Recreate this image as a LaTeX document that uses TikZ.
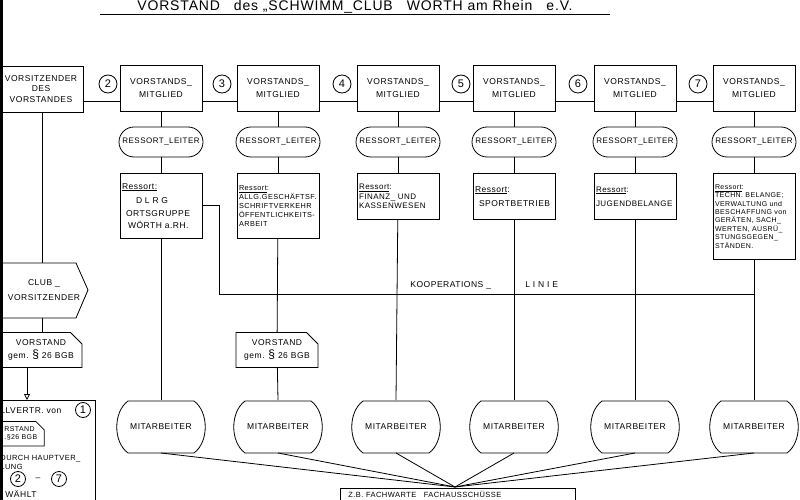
\documentclass[tikz,border=0pt]{standalone}
\usepackage{fontspec}
\setmainfont{Liberation Sans}[LetterSpace=6]
\usetikzlibrary{shapes.misc,calc,arrows.meta}
\begin{document}
\begin{tikzpicture}[x=1pt,y=-1pt,line width=0.8pt,
  txt/.style={font=\fontsize{8.5}{10.5}\selectfont,align=center,inner sep=0pt},
  vbox/.style={draw,txt,minimum width=82,minimum height=46},
  leiter/.style={draw,txt,rounded rectangle,minimum width=84,minimum height=30,font=\fontsize{8}{10}\selectfont},
  rbox/.style={draw,txt,minimum width=82,anchor=north,align=left,text width=78,inner sep=2pt},
  numc/.style={draw,circle,minimum size=18,inner sep=0pt,font=\fontsize{11}{11}\selectfont},
  gem/.style={draw,txt,chamfered rectangle,chamfered rectangle corners=north east,chamfered rectangle xsep=8pt,minimum width=82,minimum height=35}]
\useasboundingbox (0,0) rectangle (800,500);
\clip (0,0) rectangle (800,500);
\fill (0,0) rectangle (3,500);
% title
\node[font=\fontsize{14}{14}\selectfont,anchor=base] (title) at (355,11) {VORSTAND\quad des „SCHWIMM\_CLUB\quad WÖRTH am Rhein\quad e.V.};
\draw (100,14) -- (610,14);
% top row
\node[vbox,minimum width=84] (v1) at (41,89) {VORSITZENDER\\DES\\VORSTANDES};
\foreach \i/\x in {2/161,3/278,4/398,5/514,6/635,7/754}{
  \node[vbox] (v\i) at (\x,88) {VORSTANDS\_\\[3pt]MITGLIED};
  \node[leiter] (l\i) at (\x,142) {RESSORT\_LEITER};
  \draw (v\i) -- (l\i);
}
\foreach \i/\x in {2/108,3/222,4/342,5/461,6/578,7/698}
  \node[numc,fill=white] (n\i) at (\x,84) {\i};
\draw (v1.east |- 0,101) -- (v2.west |- 0,101);
\foreach \a/\b in {2/3,3/4,4/5,5/6,6/7} \draw (v\a.east |- 0,101) -- (v\b.west |- 0,101);
% ressort boxes
\node[rbox,minimum height=65] (r2) at (161,173) {\underline{Ressort:}\\[4pt]\hspace*{14pt}D L R G\\[2pt]\hspace*{4pt}ORTSGRUPPE\\[2pt]\hspace*{6pt}WÖRTH a.RH.};
\node[rbox,minimum height=65,font=\fontsize{7.3}{9}\selectfont] (r3) at (278,173) {\underline{Ressort}:\\ALLG.GESCHÄFTSF.\\SCHRIFTVERKEHR\\\mbox{ÖFFENTLICHKEITS-}\\ARBEIT};
\node[rbox,minimum height=46,font=\fontsize{8}{9.5}\selectfont] (r4) at (398,173) {\underline{Ressort}:\\FINANZ\_ UND\\KASSENWESEN\\[10pt]};
\node[rbox,minimum height=46] (r5) at (514,173) {\underline{Ressort}:\\[4pt]\hspace*{4pt}SPORTBETRIEB\\[8pt]};
\node[rbox,minimum height=46,font=\fontsize{8}{10}\selectfont] (r6) at (635,173) {\underline{Ressort}:\\[4pt]JUGENDBELANGE\\[8pt]};
\node[rbox,minimum height=86,font=\fontsize{7}{8.4}\selectfont] (r7) at (754,173) {\underline{Ressort}:\\TECHN. BELANGE;\\VERWALTUNG und\\BESCHAFFUNG von\\GERÄTEN, SACH\_\\WERTEN, AUSRÜ\_\\STUNGSGEGEN\_\\STÄNDEN.};
\foreach \i in {2,...,7} \draw (l\i) -- (r\i);
% Vorstand gem
\node[gem] (g3) at (277,350) {VORSTAND\\[3pt]gem. {\fontsize{12}{12}\selectfont\S} 26 BGB};
% Mitarbeiter
\foreach \i/\x in {2/161,3/278,4/396,5/514,6/635,7/754}{
  \node[txt,minimum width=86,minimum height=53] (m\i) at (\x,427) {MITARBEITER};
  \draw (\x-33,401) -- (\x+33,401) .. controls (\x+48,412) and (\x+48,442) .. (\x+33,453) -- (\x-33,453) .. controls (\x-48,442) and (\x-48,412) .. cycle;
}
\draw (r3) -- (g3) -- (m3.north);
\foreach \i in {2,4,5,6,7} \draw (r\i) -- (m\i.north);
% kooperationslinie
\coordinate (k1) at (219,205);
\coordinate (k2) at (219,294);
\coordinate (k3) at (754,294);
\draw (r2.east |- k1) -- (k1) -- (k2) -- (k3);
\node[txt,anchor=west] (kt1) at (410,285) {KOOPERATIONS \_};
\node[txt,anchor=west] (kt2) at (525,285) {L I N I E};
% bottom fan
\coordinate (f) at (455,487);
\foreach \i/\x in {2/161,3/278,4/396,5/514,6/635,7/754} \draw (\x,453) -- (f);
\node[draw,txt,anchor=north west,minimum width=235,minimum height=30] (fa) at (340,488) {};
\node[txt,anchor=north west,font=\fontsize{7.5}{8}\selectfont] (fat) at (348,491) {Z.B. FACHWARTE\quad FACHAUSSCHÜSSE};
% left column
\node[txt,minimum width=88,minimum height=55] (c1) at (44,290) {CLUB \_\\[4pt]VORSITZENDER};
\draw (2,263) -- (76,263) -- (88,290) -- (76,318) -- (2,318) -- (-10,290) -- cycle;
\draw (v1.south -| 42,0) -- (42,263);
\node[gem] (g1) at (41,350) {VORSTAND\\[3pt]gem. {\fontsize{12}{12}\selectfont\S} 26 BGB};
\draw (42,318) -- (42,333);
\node[draw,txt,anchor=north west,minimum width=96,minimum height=110] (lb) at (-1,400) {};
\draw[-{Triangle[open,length=6pt,width=6pt]}] (27,368) -- (27,400);
\node[txt,anchor=west] (t1) at (0,411) {LLVERTR. von};
\node[numc,minimum size=15] (n1) at (83,410) {1};
\node[draw,txt,chamfered rectangle,chamfered rectangle corners=north east,chamfered rectangle xsep=5pt,anchor=north west,font=\fontsize{7}{8}\selectfont,align=left,inner sep=2pt] (g4) at (-3,421) {RSTAND\\.§26 BGB};
\node[txt,anchor=west,align=left,font=\fontsize{7.5}{9}\selectfont] (t2) at (0,462) {DURCH HAUPTVER\_\\LUNG};
\node[numc,minimum size=15] (n2) at (18,479) {2};
\node[txt] (dash) at (38,479) {--};
\node[numc,minimum size=15] (n7) at (59,479) {7};
\node[txt,anchor=west] (t3) at (5,494) {WÄHLT};
\end{tikzpicture}
\end{document}
